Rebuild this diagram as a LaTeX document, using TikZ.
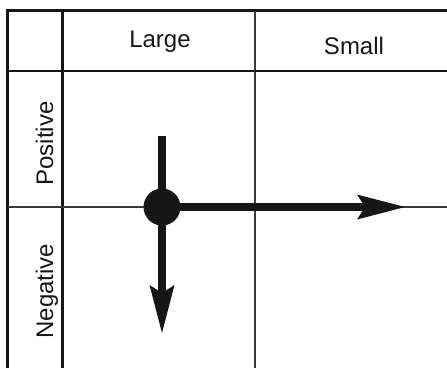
\documentclass[tikz,border=0pt]{standalone}
\usepackage{fontspec}
\setmainfont{Liberation Sans}
\usetikzlibrary{arrows.meta}
\definecolor{ink}{HTML}{161616}
\tikzset{
  grid/.style={draw=ink, line width=2.4pt},
  thingrid/.style={draw=ink!85, line width=1.8pt},
  lbl/.style={font=\fontsize{24}{28}\selectfont, inner sep=0pt, text=ink},
  flow/.style={draw=ink, line width=8pt, -{Stealth[length=48pt, width=25pt, inset=8pt, line width=0pt]}},
  stem/.style={draw=ink, line width=8pt},
  dotnode/.style={circle, fill=ink, minimum size=37pt, inner sep=0pt}
}
\begin{document}
\begin{tikzpicture}[x=1pt, y=-1pt]
\useasboundingbox (0,0) rectangle (447,368);
% grid
\draw[grid] (7.5,368) -- (7.5,10.5) -- (447,10.5);
\draw[grid] (62.5,10.5) -- (62.5,368);
\draw[thingrid] (255,10.5) -- (255,368);
\draw[grid] (7.5,71) -- (447,71);
\draw[thingrid] (7.5,207) -- (447,207);
% labels
\node[lbl, anchor=base] (large) at (160,47) {Large};
\node[lbl, anchor=base] (small) at (354,54) {Small};
\node[lbl, rotate=90, anchor=base] (pos) at (53,143.5) {Positive};
\node[lbl, rotate=90, anchor=base] (neg) at (53,291) {Negative};
% arrows
\coordinate (c) at (162,207);
\coordinate (top) at (162,136);
\coordinate (down) at (162,333);
\coordinate (right) at (405,207);
\draw[stem] (top) -- (c);
\draw[flow] (c) -- (down);
\draw[flow] (c) -- (right);
\node[dotnode] (dot) at (c) {};
\end{tikzpicture}
\end{document}
